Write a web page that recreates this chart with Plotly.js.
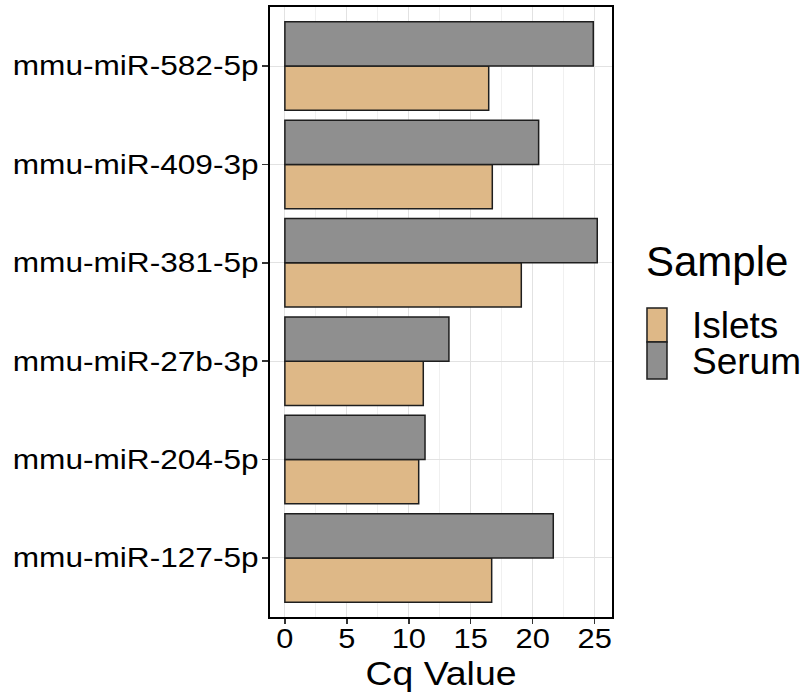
<!DOCTYPE html>
<html>
<head>
<meta charset="utf-8">
<script src="https://cdn.plot.ly/plotly-3.0.1.min.js"></script>
<style>html,body{margin:0;padding:0;background:#fff}</style>
</head>
<body>
<div id="chart" style="width:806px;height:698px"></div>
<script>
// miRNAs, listed bottom to top
const mirnas = ['mmu-miR-127-5p', 'mmu-miR-204-5p', 'mmu-miR-27b-3p', 'mmu-miR-381-5p', 'mmu-miR-409-3p', 'mmu-miR-582-5p'];
// Cq values per sample type
const isletsCq = [16.69, 10.80, 11.17, 19.08, 16.74, 16.45];
const serumCq  = [21.66, 11.31, 13.24, 25.21, 20.48, 24.89];
const sampleNames = ['Islets', 'Serum'];
const sampleColors = ['#DEB887', '#8F8F8F'];
const xTickVals = [0, 5, 10, 15, 20, 25];

const FONT = 'Liberation Sans, Arial, Helvetica, sans-serif';
const OUTLINE = '#1e1e1e';

const series = [isletsCq, serumCq];
const traces = series.map((vals, i) => ({
  type: 'bar',
  orientation: 'h',
  name: sampleNames[i],
  y: mirnas,
  x: vals,
  marker: {color: sampleColors[i], line: {color: OUTLINE, width: 1.5}},
  hoverinfo: 'x+y+name',
  showlegend: false
}));

// legend drawn in the right margin: title, keys and labels
const legendX = 1.0935, keyX0 = 1.1023, keyX1 = 1.1608, labelX = 1.2280;
const keyRows = [[0.4508, 0.5066], [0.3902, 0.4508]];
const labelY = [0.4787, 0.4197];

const shapes = sampleNames.map((n, i) => ({
  type: 'rect', xref: 'paper', yref: 'paper',
  x0: keyX0, x1: keyX1, y0: keyRows[i][0], y1: keyRows[i][1],
  fillcolor: sampleColors[i], line: {color: OUTLINE, width: 1.5}
}));

const annotations = [{
  text: 'Sample', xref: 'paper', yref: 'paper', x: legendX, y: 0.5828,
  xanchor: 'left', yanchor: 'middle', showarrow: false,
  font: {family: FONT, size: 42, color: '#000'}
}].concat(sampleNames.map((n, i) => ({
  text: n, xref: 'paper', yref: 'paper', x: labelX, y: labelY[i],
  xanchor: 'left', yanchor: 'middle', showarrow: false, height: 34,
  font: {family: FONT, size: 37, color: '#000'}
})));

const layout = {
  width: 806, height: 698,
  margin: {l: 270, r: 194, t: 7, b: 81, pad: 0},
  paper_bgcolor: '#fff', plot_bgcolor: '#fff',
  barmode: 'group', bargap: 0.1, bargroupgap: 0,
  showlegend: false,
  xaxis: {
    range: [-1.2, 26.4],
    tickvals: xTickVals,
    ticktext: xTickVals.map(String),
    ticks: 'outside', ticklen: 5, tickwidth: 1.5, tickcolor: '#333',
    showgrid: true, gridcolor: '#e2e2e2', gridwidth: 1,
    minor: {dtick: 2.5, tick0: 2.5, showgrid: true, gridcolor: '#ececec', gridwidth: 0.8, ticks: ''},
    zeroline: false,
    showline: true, mirror: true, linecolor: '#000', linewidth: 2,
    tickfont: {family: FONT, size: 27, color: '#000'},
    ticklabelstandoff: -8,
    title: {text: 'Cq Value', font: {family: FONT, size: 34, color: '#000'}, standoff: 6}
  },
  yaxis: {
    type: 'category',
    categoryorder: 'array', categoryarray: mirnas,
    range: [-0.6, 5.6],
    ticks: 'outside', ticklen: 6, tickwidth: 1.5, tickcolor: '#333',
    showgrid: true, gridcolor: '#e2e2e2', gridwidth: 1,
    zeroline: false,
    showline: true, mirror: true, linecolor: '#000', linewidth: 2,
    tickfont: {family: FONT, size: 27, color: '#000'},
    ticklabelstandoff: -2
  },
  shapes: shapes,
  annotations: annotations
};

// widen glyphs horizontally for the broad lettering of the axis text
function widen(selector, k) {
  document.querySelectorAll(selector).forEach(t => {
    const w = t.getComputedTextLength();
    if (w > 0) {
      t.setAttribute('textLength', (w * k).toFixed(1));
      t.setAttribute('lengthAdjust', 'spacingAndGlyphs');
    }
  });
}

Plotly.newPlot('chart', traces, layout, {displayModeBar: false, staticPlot: true}).then(() => {
  widen('#chart .ytick text', 1.17);
  widen('#chart .xtick text', 1.14);
  widen('#chart .g-xtitle text', 1.1);
});
</script>
</body>
</html>
